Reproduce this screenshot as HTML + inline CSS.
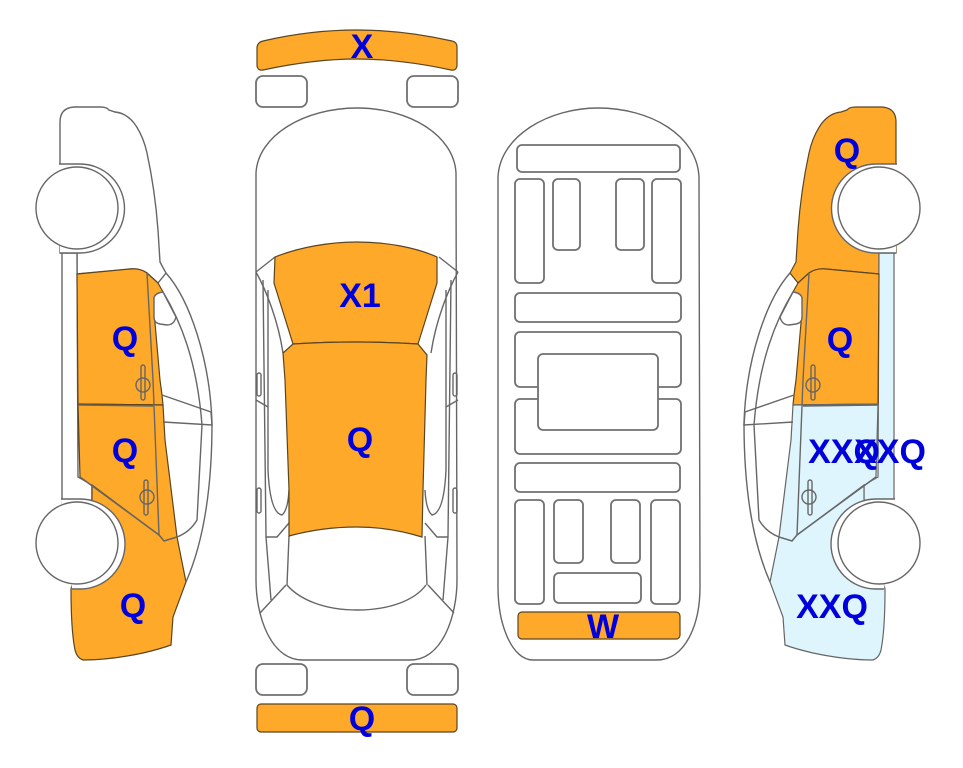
<!DOCTYPE html>
<html>
<head>
<meta charset="utf-8">
<style>
html,body{margin:0;padding:0;background:#fff;width:963px;height:768px;overflow:hidden}
svg{display:block}
.l{fill:none;stroke:#666;stroke-width:1.4}
.r{fill:#fff;stroke:#707070;stroke-width:1.8}
.o{fill:#FFA92B;stroke:#5a4520;stroke-width:1.2}
.b{fill:#DFF5FD;stroke:#666;stroke-width:1.2}
.w{fill:#fff;stroke:#666;stroke-width:1.4}
text{font-family:"Liberation Sans",sans-serif;font-weight:bold;font-size:34px;fill:#0000DC;text-anchor:middle}
</style>
</head>
<body>
<svg width="963" height="768" viewBox="0 0 963 768" xmlns="http://www.w3.org/2000/svg">
<defs>
<path id="top" d="M60 164L60 122Q60 108 74 107L100 107Q107 107 109 110L115 112Q126 113 134 123Q143 135 147 153Q155 190 158 230L160 262L166 273L158 283L147 273Q140 268 130 269L77 274L77 253L60 253Z"/>
<path id="strip" d="M62 253L77 253L78 477L92 485L92 500L62 503Z"/>
<path id="d1" d="M77 274L130 269Q140 268 147 273L158 283L163 292L154 298L155 323L160 380L162 395L163 405L78 404Z"/>
<path id="d2" d="M78 404L163 405L165 440L177 537L164 541L159 535L80 477Z"/>
<path id="fe" d="M92 485L159 535L164 541L177 537L186 582L173 617L171 645Q160 649 143 653Q110 660 83 660Q77 658 75 650Q71 630 71 589L92 499Z"/>
<g id="side">
<path class="l" d="M166 273C190 300 210 360 212 423C212 500 200 550 186 582"/>
<path class="l" d="M163 292C180 320 197 360 202 425L197 520Q190 532 177 537L164 541L159 535"/>
<path class="l" d="M147 273L153 380L159 535"/>
<path class="l" d="M78 405L153 406"/>
<path class="l" d="M80 477L159 535"/>
<path class="l" d="M162 395L211 412L212 425L163 422"/>
<path class="w" d="M154 298Q155 293 163 292L176 317Q174 325 167 325L160 324Q154 323 154 317Z"/>
<ellipse class="l" cx="143" cy="385" rx="7" ry="7"/>
<rect class="l" x="141" y="365" width="4" height="35" rx="2"/>
<ellipse class="l" cx="147" cy="497" rx="7" ry="7"/>
<rect class="l" x="144" y="480" width="4" height="35" rx="2"/>
<path class="w" d="M59 164L80 164A44.5 44.5 0 0 1 80 253L60 253"/>
<circle class="w" cx="77" cy="208" r="41"/>
<path class="w" d="M61 499L80 499A45 45 0 0 1 80 589L72 589"/>
<circle class="w" cx="77" cy="543" r="41"/>
</g>
<g id="halfc">
<path class="l" d="M256 272L275 257"/>
<path class="l" d="M256 272C266 290 278 320 283 353"/>
<path class="l" d="M263 280L266 537L271 600"/>
<path class="l" d="M268 290L268 470Q270 513 282 515Q288 510 289 490"/>
<path class="l" d="M256 400L268 407"/>
<path class="l" d="M266 537L277 537L289 523"/>
<path class="l" d="M286 585L260 613"/>
<path class="l" d="M289 536L287 585"/>
<rect class="l" x="257" y="373" width="4" height="23" rx="2"/>
<rect class="l" x="257" y="488" width="4" height="25" rx="2"/>
<rect class="r" x="256" y="76" width="51" height="31" rx="7"/>
<rect class="r" x="256" y="664" width="51" height="31" rx="7"/>
</g>
</defs>

<!-- left car -->
<use href="#top" class="w"/>
<use href="#strip" class="w"/>
<use href="#d1" class="o"/>
<use href="#d2" class="o"/>
<use href="#fe" class="o"/>
<use href="#side"/>

<!-- right car -->
<g transform="translate(956,0) scale(-1,1)">
<use href="#top" class="o"/>
<use href="#strip" class="b"/>
<use href="#d1" class="o"/>
<use href="#d2" class="b"/>
<use href="#fe" class="b"/>
<use href="#side"/>
</g>

<!-- centre car -->
<path class="o" d="M257 47Q258 42 263 41Q310 30 357 30Q404 30 452 41Q457 42 457 47L457 66Q456 71 451 70Q400 59 357 59Q314 59 263 70Q258 71 257 66Z"/>
<path class="w" d="M256 173C258 135 305 108 357 108C409 108 454 135 456 173L457 580C457 615 443 660 410 660L303 660C270 660 256 615 256 580Z"/>
<use href="#halfc"/>
<g transform="translate(714,0) scale(-1,1)"><use href="#halfc"/></g>
<path class="o" d="M275 257C300 247 330 242 357 242C385 242 415 247 437 257L437 283L418 344Q355 340 293 344L274 283Z"/>
<path class="o" d="M293 344Q355 340 418 344L427 355L426 380L423 490L422 537Q390 527 357 527Q322 527 289 536L289 490L285 380L283 353Z"/>
<path class="l" d="M287 585C300 600 325 610 357 610C390 610 415 600 426 585"/>
<rect class="o" x="257" y="704" width="200" height="28" rx="4"/>

<!-- plan view -->
<path class="w" d="M498 177C500 135 550 108 598 108C650 108 697 135 699 177L700 587C700 625 685 660 657 660L533 660C512 660 498 625 498 587Z"/>
<rect class="r" x="517" y="145" width="163" height="27" rx="5"/>
<rect class="r" x="515" y="179" width="29" height="104" rx="5"/>
<rect class="r" x="553" y="179" width="27" height="71" rx="5"/>
<rect class="r" x="616" y="179" width="28" height="71" rx="5"/>
<rect class="r" x="652" y="179" width="29" height="104" rx="5"/>
<rect class="r" x="515" y="293" width="166" height="29" rx="5"/>
<rect class="r" x="515" y="332" width="166" height="55" rx="5"/>
<rect class="r" x="515" y="399" width="166" height="55" rx="5"/>
<rect class="r" x="538" y="354" width="120" height="76" rx="5"/>
<rect class="r" x="515" y="463" width="165" height="29" rx="5"/>
<rect class="r" x="515" y="500" width="29" height="104" rx="5"/>
<rect class="r" x="554" y="500" width="29" height="63" rx="5"/>
<rect class="r" x="611" y="500" width="29" height="63" rx="5"/>
<rect class="r" x="651" y="500" width="29" height="104" rx="5"/>
<rect class="r" x="554" y="573" width="87" height="30" rx="5"/>
<rect class="o" x="518" y="612" width="162" height="27" rx="4"/>

<!-- labels -->
<text x="125" y="350">Q</text>
<text x="125" y="462">Q</text>
<text x="133" y="617">Q</text>
<text x="362" y="58">X</text>
<text x="360" y="307">X1</text>
<text x="360" y="451">Q</text>
<text x="362" y="730">Q</text>
<text x="603" y="638">W</text>
<text x="847" y="162">Q</text>
<text x="840" y="351">Q</text>
<text x="844" y="463">XXQ</text>
<text x="890" y="463">XXQ</text>
<text x="832" y="618">XXQ</text>
</svg>
</body>
</html>
